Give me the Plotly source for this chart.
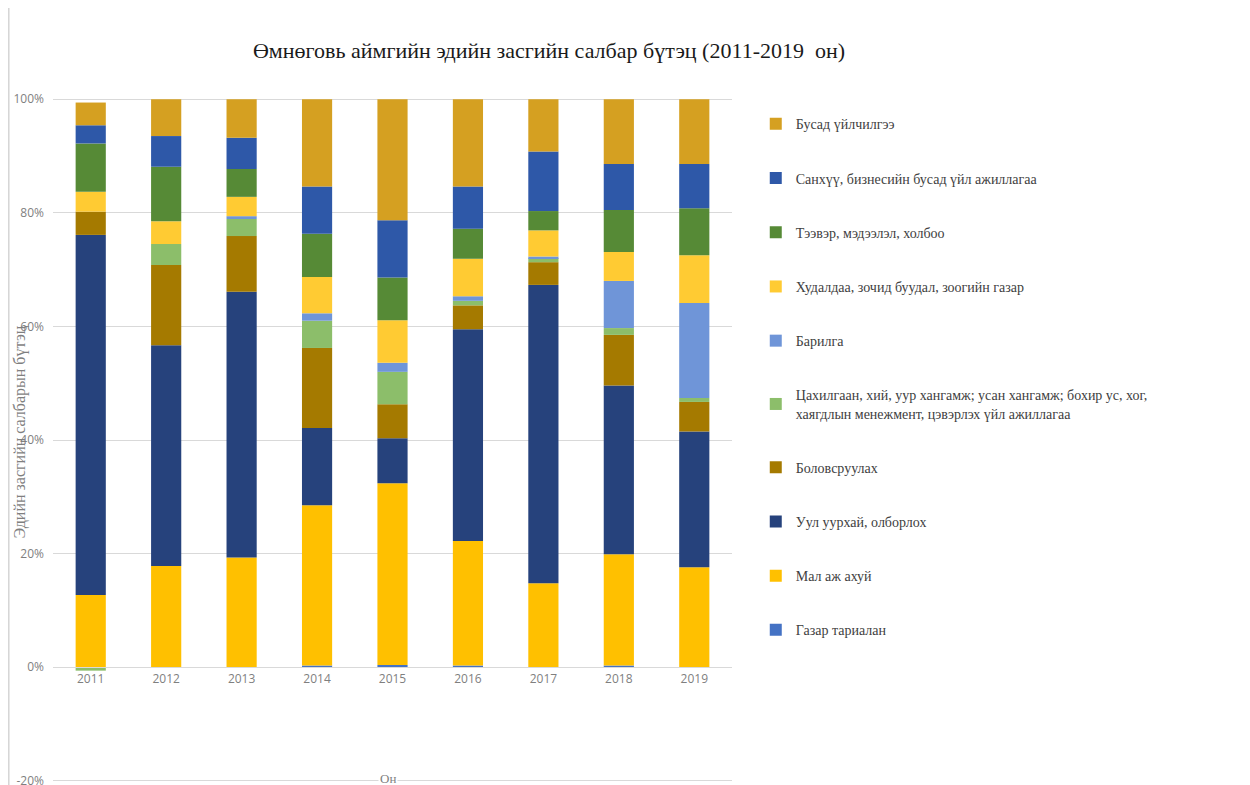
"""Sector structure of Umnugovi aimag economy, 2011-2019 (stacked 100% bars)."""

import plotly.graph_objects as go

# categories
years = ["2011", "2012", "2013", "2014", "2015", "2016", "2017", "2018", "2019"]

# series values, % of total (bottom segment first)
gazar_tarialan = [0.0, 0.0, 0.0, 0.3, 0.4, 0.3, 0.0, 0.3, 0.0]
mal_aj_ahui = [12.7, 17.8, 19.3, 28.2, 32.0, 21.9, 14.8, 19.6, 17.6]
uul_uurhai = [63.4, 38.9, 46.8, 13.6, 7.9, 37.3, 52.5, 29.7, 23.9]
bolovsruulah = [4.1, 14.1, 9.8, 14.1, 6.0, 4.2, 4.0, 8.9, 5.2]
tsahilgaan = [-0.6, 3.7, 3.0, 4.8, 5.7, 0.8, 0.7, 1.2, 0.7]
barilga = [0.0, 0.0, 0.5, 1.3, 1.6, 0.8, 0.3, 8.3, 16.7]
hudaldaa = [3.5, 4.0, 3.4, 6.4, 7.5, 6.6, 4.6, 5.1, 8.4]
teever = [8.5, 9.6, 4.9, 7.6, 7.5, 5.3, 3.4, 7.4, 8.3]
sanhuu = [3.2, 5.4, 5.5, 8.3, 10.1, 7.4, 10.5, 8.1, 7.8]
busad = [4.0, 6.5, 6.8, 15.4, 21.3, 15.4, 9.2, 11.4, 11.4]

# y tick labels
y_ticks = [-20, 0, 20, 40, 60, 80, 100]
y_tick_labels = ["-20%", "0%", "20%", "40%", "60%", "80%", "100%"]

series = [
    ("Газар тариалан", gazar_tarialan, "#4472C4"),
    ("Мал аж ахуй", mal_aj_ahui, "#FFC000"),
    ("Уул уурхай, олборлох", uul_uurhai, "#26427C"),
    ("Боловсруулах", bolovsruulah, "#A57A00"),
    ("Цахилгаан, хий, уур хангамж; усан хангамж; бохир ус, хог,<br>"
     "хаягдлын менежмент, цэвэрлэх үйл ажиллагаа", tsahilgaan, "#8CBE6A"),
    ("Барилга", barilga, "#6F95D8"),
    ("Худалдаа, зочид буудал, зоогийн газар", hudaldaa, "#FFCB33"),
    ("Тээвэр, мэдээлэл, холбоо", teever, "#568A36"),
    ("Санхүү, бизнесийн бусад үйл ажиллагаа", sanhuu, "#2E58A8"),
    ("Бусад үйлчилгээ", busad, "#D5A021"),
]

fig = go.Figure()
for i, (name, values, color) in enumerate(series):
    fig.add_trace(go.Bar(
        x=years,
        y=values,
        name=name,
        legendgroup=f"g{i}",
        legendrank=1000 - i * 10,  # top segment listed first
        marker=dict(color=color, line=dict(width=0)),
    ))

grey = "#7F7F7F"
y_lo, y_hi = -20.2, 100.2

# page body has an 8px margin; the figure starts 8px in and runs past the window bottom
fig.update_layout(
    width=1242,
    height=785,
    barmode="relative",
    bargap=0.6,
    paper_bgcolor="white",
    plot_bgcolor="white",
    margin=dict(l=45, r=518, t=90, b=11, autoexpand=False),
    title=dict(
        text="Өмнөговь аймгийн эдийн засгийн салбар бүтэц (2011-2019  он)",
        font=dict(family="Liberation Serif", size=22, color="#1A1A1A"),
        x=0.4356, xanchor="center", xref="container",
        y=1 - 42 / 785, yanchor="middle",
    ),
    legend=dict(
        x=1.035, xanchor="left",
        y=0.985, yanchor="top",
        traceorder="grouped",
        tracegroupgap=33,
        font=dict(family="Liberation Serif", size=14, color="#404040"),
        itemwidth=30,
        bgcolor="rgba(0,0,0,0)",
    ),
    xaxis=dict(
        type="category",
        anchor="free",
        position=-y_lo / (y_hi - y_lo),
        automargin=False,
        showgrid=False,
        showline=True,
        linecolor="#D9D9D9",
        ticks="",
        tickfont=dict(family="Open Sans", size=12, color=grey),
    ),
    yaxis=dict(
        range=[y_lo, y_hi],
        tickmode="array",
        tickvals=y_ticks,
        ticktext=y_tick_labels,
        automargin=False,
        showgrid=True,
        gridcolor="#D9D9D9",
        zeroline=True,
        zerolinecolor="#D9D9D9",
        zerolinewidth=1,
        showline=False,
        ticks="",
        ticklabelstandoff=8,
        tickfont=dict(family="Open Sans", size=12, color=grey),
    ),
    annotations=[
        dict(
            text="Эдийн засгийн салбарын бүтэц",
            textangle=-90,
            x=-0.0486, y=0.511, xref="paper", yref="paper",
            xanchor="center", yanchor="middle", showarrow=False,
            font=dict(family="Liberation Serif", size=16, color=grey),
        ),
        dict(
            text="Он", x=0.493, y=-20, xref="paper", yref="y",
            xanchor="center", yanchor="middle", showarrow=False,
            font=dict(family="Liberation Serif", size=13, color=grey),
            bgcolor="white", yshift=2,
        ),
    ],
    shapes=[
        dict(type="line", xref="paper", yref="paper",
             x0=-0.065, x1=-0.065, y0=-0.02, y1=1.15,
             line=dict(color="#BFBFBF", width=1)),
    ],
)

fig.write_html("out.html")
